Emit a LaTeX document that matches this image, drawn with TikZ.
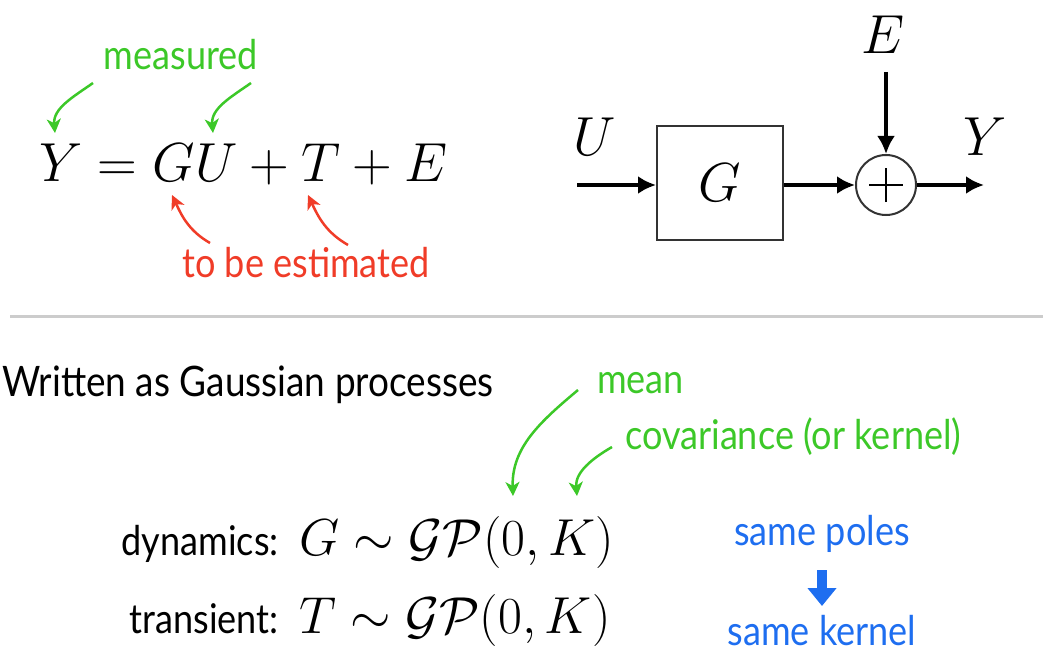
\RequirePackage{fix-cm}
\documentclass[tikz,border=0pt]{standalone}
\usepackage{amsmath}
\usepackage{fontspec}
\usetikzlibrary{arrows.meta}
\newfontfamily\gill[FakeStretch=0.88]{Lato}
\definecolor{mgreen}{RGB}{60,200,40}
\definecolor{mred}{RGB}{240,60,40}
\definecolor{mblue}{RGB}{30,110,240}
\tikzset{
  lbl/.style={inner sep=0pt, font=\gill\fontsize{41}{41}\selectfont},
  grarrow/.style={draw=mgreen, line width=2.5pt, -{Stealth[length=14pt,width=14pt,inset=4pt]}},
  rdarrow/.style={draw=mred, line width=2.5pt, -{Stealth[length=14pt,width=14pt,inset=4pt]}},
  sigarrow/.style={line width=4pt, -{Latex[length=18pt,width=18pt]}},
  bigmath/.style={inner sep=0pt, font=\fontsize{55}{55}\selectfont},
}
\begin{document}
\begin{tikzpicture}[x=1pt,y=1pt]
\useasboundingbox (0,0) rectangle (1043,-655);
% ---------- top left equation
\node[bigmath, anchor=base west] (eq) at (39,-182) {$Y = GU + T + E$};
\node[lbl, text=mgreen] (meas) at (181,-55) {measured};
\node[lbl, text=mred] (est) at (306,-263) {to be estimated};
\coordinate (m1s) at (93,-83);  \coordinate (m1e) at (55,-133);
\coordinate (m2s) at (251,-83); \coordinate (m2e) at (213,-133);
\coordinate (r1s) at (210,-243); \coordinate (r1e) at (172,-195);
\coordinate (r2s) at (348,-245); \coordinate (r2e) at (308,-195);
\draw[grarrow] (m1s) to[out=215,in=95] (m1e);
\draw[grarrow] (m2s) to[out=215,in=95] (m2e);
\draw[rdarrow] (r1s) to[out=150,in=-65] (r1e);
\draw[rdarrow] (r2s) to[out=150,in=-65] (r2e);
% ---------- block diagram
\node[draw=black!80, line width=2pt, minimum width=126pt, minimum height=114pt, inner sep=0pt, font=\fontsize{55}{55}\selectfont] (G) at (720,-183) {$G$};
\node[draw=black!80, line width=2pt, circle, minimum size=60pt, inner sep=0pt] (sum) at (886,-185) {};
\draw[line width=1.3pt] ([xshift=-17pt]sum.center) -- ([xshift=17pt]sum.center)
      ([yshift=-17pt]sum.center) -- ([yshift=17pt]sum.center);
\node[bigmath] (U) at (595,-137) {$U$};
\node[bigmath] (E) at (883,-35) {$E$};
\node[bigmath] (Y) at (985,-137) {$Y$};
\coordinate (uin) at (577,-185);
\coordinate (yout) at (984,-185);
\draw[sigarrow] (uin) -- (uin -| G.west);
\draw[sigarrow] (G.east |- sum.west) -- (sum.west);
\draw[sigarrow] (sum.east) -- (yout);
\draw[sigarrow] ([yshift=-18pt]E.south -| sum.north) -- (sum.north);
% ---------- separator
\coordinate (hl) at (10,-316); \coordinate (hr) at (1043,-316);
\draw[line width=3pt, black!20] (hl) -- (hr);
% ---------- bottom
\node[lbl, anchor=west, font=\gill\fontsize{42}{42}\selectfont] (wr) at (2,-385) {Written as Gaussian processes};
\node[lbl, text=mgreen, anchor=west] (mean) at (597,-383) {mean};
\node[lbl, text=mgreen, anchor=west] (cov) at (625,-437) {covariance (or kernel)};
\node[lbl, anchor=base east] (dyn) at (279,-555) {dynamics:};
\node[inner sep=0pt, anchor=base west, font=\fontsize{52}{52}\selectfont] (gp1) at (299,-555) {$G \sim \mathcal{GP}(0,K)$};
\node[lbl, anchor=base east] (tra) at (279,-633) {transient:};
\node[inner sep=0pt, anchor=base west, font=\fontsize{52}{52}\selectfont] (gp2) at (299,-633) {$T \sim \mathcal{GP}(0,K)$};
\coordinate (ms) at (578,-390); \coordinate (me) at (513,-496);
\coordinate (cs) at (612,-447); \coordinate (ce) at (577,-496);
\draw[grarrow] (ms) to[out=220,in=92] (me);
\draw[grarrow] (cs) to[out=210,in=95] (ce);
\node[lbl, text=mblue, anchor=base] (sp) at (822,-545) {same poles};
\node[lbl, text=mblue, anchor=base] (sk) at (822,-645) {same kernel};
\coordinate (bs) at (823,-570); \coordinate (be) at (823,-606);
\draw[mblue, line width=10pt, -{Triangle[length=18pt,width=28pt]}] (sp.south |- bs) -- (sk.north |- be);
\end{tikzpicture}
\end{document}
